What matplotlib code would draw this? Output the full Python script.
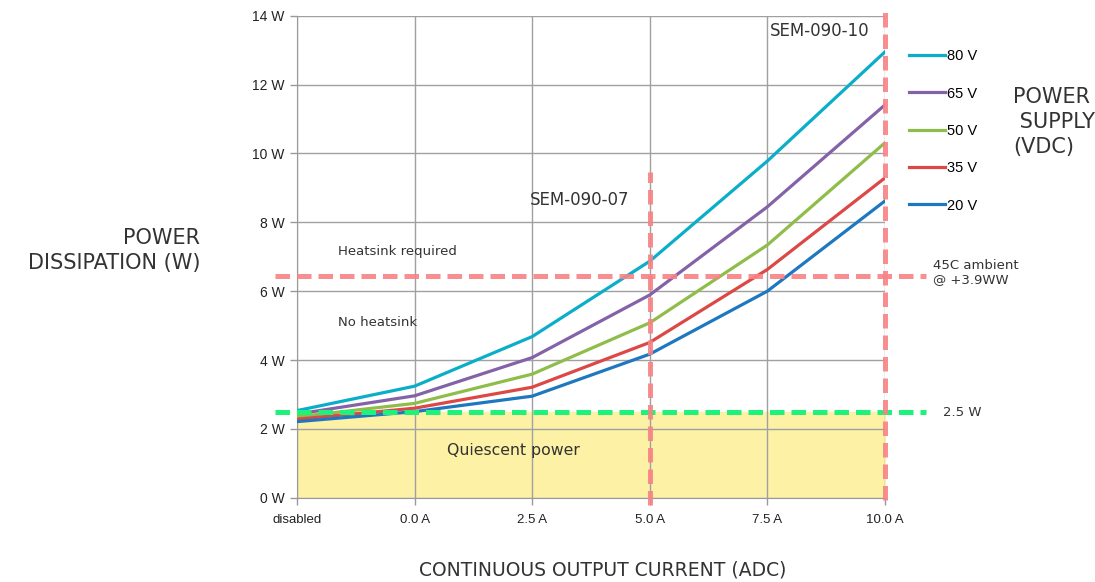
import matplotlib.pyplot as plt
import numpy as np

# current steps along the x axis
categories = ['disabled', '0.0 A', '2.5 A', '5.0 A', '7.5 A', '10.0 A']

# power dissipation (W) per supply voltage
supply_labels = ['80 V', '65 V', '50 V', '35 V', '20 V']
p_80v = [2.53, 3.24, 4.68, 6.87, 9.78, 12.95]
p_65v = [2.43, 2.96, 4.07, 5.89, 8.45, 11.41]
p_50v = [2.35, 2.74, 3.59, 5.08, 7.34, 10.31]
p_35v = [2.28, 2.60, 3.21, 4.51, 6.63, 9.29]
p_20v = [2.21, 2.50, 2.95, 4.17, 6.00, 8.62]

y_ticks = [0, 2, 4, 6, 8, 10, 12, 14]
y_tick_labels = ['0 W', '2 W', '4 W', '6 W', '8 W', '10 W', '12 W', '14 W']

quiescent_w = 2.5
ambient_limit_w = 6.45

colors = ['#0aaec8', '#8462a8', '#8fbd49', '#dc4846', '#1e78bf']
dash_red = '#f98284'
dash_green = '#1ef27a'

fig = plt.figure(figsize=(10.95, 5.82), dpi=100)
ax = fig.add_axes([0.2712, 0.1448, 0.5370, 0.8282])

x = np.arange(len(categories))
series = [p_80v, p_65v, p_50v, p_35v, p_20v]

# quiescent band
ax.fill_between([0, 5], 0, quiescent_w, color='#fdf1a6', zorder=0)

for vals, c, lab in zip(series, colors, supply_labels):
    ax.plot(x, vals, color=c, lw=2.3, label=lab, zorder=3)

# limit lines
dash_kw = dict(lw=3.6, dashes=(2.9, 1.4), clip_on=False, zorder=4)
ax.plot([-0.19, 5.35], [quiescent_w, quiescent_w], color=dash_green, **dash_kw)
ax.plot([-0.19, 5.35], [ambient_limit_w, ambient_limit_w], color=dash_red,
        alpha=0.9, **dash_kw)
ax.plot([3, 3], [-0.21, 9.46], color=dash_red, alpha=0.9, **dash_kw)
ax.plot([5, 5], [-0.07, 14.22], color=dash_red, alpha=0.9, **dash_kw)

ax.set_xlim(0, 5)
ax.set_ylim(0, 14)
ax.set_xticks(x)
ax.set_xticklabels(categories, fontsize=9.5, family='Liberation Sans')
ax.set_yticks(y_ticks)
ax.set_yticklabels(y_tick_labels, fontsize=10, family='Liberation Sans')
ax.tick_params(axis='both', colors='#999999', labelcolor='#222222', length=5, width=1)
ax.tick_params(axis='x', pad=7)
ax.tick_params(axis='y', pad=4)
ax.grid(True, color='#a0a0a0', lw=1, zorder=1)
ax.set_axisbelow(True)
for s in ['top', 'right']:
    ax.spines[s].set_visible(False)
for s in ['left', 'bottom']:
    ax.spines[s].set_color('#999999')

# text labels
txt = dict(color='#333333', family='DejaVu Sans', va='center')
ax.text(1.98, 8.65, 'SEM-090-07', fontsize=12, **txt)
ax.text(4.02, 13.55, 'SEM-090-10', fontsize=12, **txt)
ax.text(0.35, 7.16, 'Heatsink required', fontsize=9.5, **txt)
ax.text(0.35, 5.10, 'No heatsink', fontsize=9.5, **txt)
ax.text(1.275, 1.36, 'Quiescent power', fontsize=11.3, **txt)

fig.text(0.852, 0.532, '45C ambient\n@ +3.9WW', fontsize=9.5,
         linespacing=1.15, **txt)
fig.text(0.861, 0.292, '2.5 W', fontsize=9.5, **txt)
fig.text(0.925, 0.79, 'POWER\n SUPPLY\n(VDC)', fontsize=15,
         linespacing=1.3, **txt)
fig.text(0.183, 0.569, 'POWER\nDISSIPATION (W)', fontsize=15, ha='right',
         linespacing=1.3, multialignment='right', **txt)
fig.text(0.55, 0.021, 'CONTINUOUS OUTPUT CURRENT (ADC)', fontsize=13.5,
         ha='center', **txt)

leg = fig.legend(loc='upper left', bbox_to_anchor=(0.818, 0.938), frameon=False,
                 handlelength=2.5, handletextpad=0.1, labelspacing=1.6,
                 prop={'family': 'Liberation Sans', 'size': 10.5})

fig.savefig('out.png', dpi=100)
